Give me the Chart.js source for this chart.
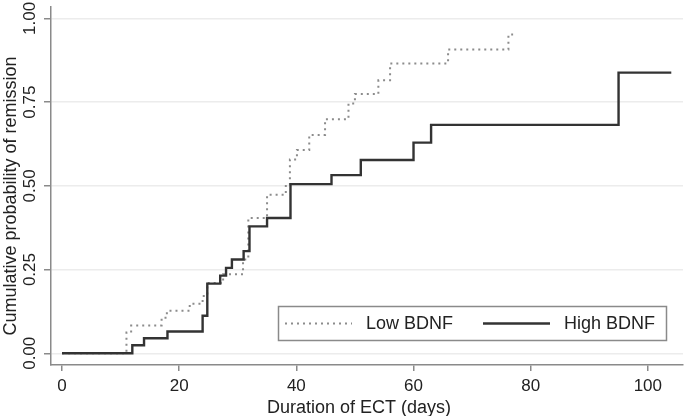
<!DOCTYPE html>
<html>
<head>
<meta charset="utf-8">
<script src="https://cdn.jsdelivr.net/npm/chart.js@4"></script>
<style>
  html, body { margin: 0; padding: 0; background: #fff; }
  #wrap { width: 685px; height: 416px; }
</style>
</head>
<body>
<div id="wrap"><canvas id="kmChart" width="685" height="416"></canvas></div>
<script>
// valeurs
var xTicks = [0, 20, 40, 60, 80, 100];
var yTicks = [0, 0.25, 0.5, 0.75, 1];
var yTickLabels = ['0.00', '0.25', '0.50', '0.75', '1.00'];

var lowDays = [0, 11, 11.8, 17, 17.9, 21.8, 24, 24.8, 27.5, 30.9, 31.8, 35, 38.2, 38.9, 40.1, 42.2, 44.9, 48.9, 50, 54, 56, 65.9, 76.2, 77];
var lowProb = [0, 0.062, 0.083, 0.106, 0.127, 0.148, 0.171, 0.21, 0.236, 0.28, 0.404, 0.473, 0.503, 0.579, 0.607, 0.652, 0.699, 0.746, 0.774, 0.815, 0.865, 0.907, 0.952, 0.952];

var highDays = [0, 12, 14, 18, 24, 24.8, 27, 28, 29, 31, 32, 35, 39, 46, 51, 60, 63, 95, 104];
var highProb = [0, 0.024, 0.045, 0.065, 0.112, 0.208, 0.232, 0.255, 0.28, 0.305, 0.379, 0.404, 0.505, 0.532, 0.577, 0.629, 0.682, 0.838, 0.838];

var FONT = '"Liberation Sans", Arial, sans-serif';
var AXIS_GREY = '#8a8a8a';

function toPoints(xs, ys) {
    return xs.map(function(x, i) { return { x: x, y: ys[i] }; });
}

// Plugin pour les textes tournés et la légende encadrée
var extras = {
    id: 'extras',
    afterDraw: function(chart) {
        var ctx = chart.ctx;
        var yScale = chart.scales.y;
        ctx.save();
        ctx.fillStyle = '#222';

        // étiquettes de l'axe y (verticales)
        ctx.font = '17px ' + FONT;
        ctx.textAlign = 'center';
        ctx.textBaseline = 'alphabetic';
        yTicks.forEach(function(v, i) {
            ctx.save();
            ctx.translate(35, yScale.getPixelForValue(v));
            ctx.rotate(-Math.PI / 2);
            ctx.fillText(yTickLabels[i], 0, 0);
            ctx.restore();
        });

        // titre de l'axe y
        ctx.font = '18px ' + FONT;
        ctx.save();
        ctx.translate(16, 196);
        ctx.rotate(-Math.PI / 2);
        ctx.fillText('Cumulative probability of remission', 0, 0);
        ctx.restore();

        // titre de l'axe x
        ctx.fillText('Duration of ECT (days)', 359, 413);

        // légende
        ctx.fillStyle = '#fff';
        ctx.fillRect(278.5, 306.5, 388, 34);
        ctx.strokeStyle = AXIS_GREY;
        ctx.lineWidth = 1.5;
        ctx.strokeRect(278.5, 306.5, 388, 34);

        var entries = [
            { ds: chart.data.datasets[0], x: 285 },
            { ds: chart.data.datasets[1], x: 483 }
        ];
        entries.forEach(function(e) {
            ctx.save();
            ctx.strokeStyle = e.ds.borderColor;
            ctx.lineWidth = e.ds.borderWidth;
            ctx.setLineDash(e.ds.borderDash || []);
            ctx.beginPath();
            ctx.moveTo(e.x, 323.5);
            ctx.lineTo(e.x + 67, 323.5);
            ctx.stroke();
            ctx.restore();
            ctx.fillStyle = '#222';
            ctx.font = '18px ' + FONT;
            ctx.textAlign = 'left';
            ctx.textBaseline = 'middle';
            ctx.fillText(e.ds.label, e.x + 81, 324);
        });
        ctx.restore();
    }
};

var ctxKm = document.getElementById('kmChart').getContext('2d');

var kmChart = new Chart(ctxKm, {
    type: 'line',
    data: {
        datasets: [{
            label: 'Low BDNF',
            data: toPoints(lowDays, lowProb),
            stepped: 'before',
            borderColor: '#8c8c8c',
            borderWidth: 2,
            borderDash: [2, 4],
            pointRadius: 0,
            fill: false,
            order: 1
        }, {
            label: 'High BDNF',
            data: toPoints(highDays, highProb),
            stepped: 'before',
            borderColor: '#333333',
            borderWidth: 2.4,
            borderJoinStyle: 'miter',
            pointRadius: 0,
            fill: false,
            order: 0
        }]
    },
    options: {
        responsive: false,
        animation: false,
        layout: { padding: { top: 7, right: 2, left: 0, bottom: 0 } },
        plugins: {
            legend: { display: false },
            tooltip: { enabled: false }
        },
        scales: {
            x: {
                type: 'linear',
                min: -1.88,
                max: 106,
                afterFit: function(scale) { scale.height = 51; },
                afterBuildTicks: function(scale) {
                    scale.ticks = xTicks.map(function(v) { return { value: v }; });
                },
                grid: {
                    drawOnChartArea: false,
                    tickLength: 6,
                    tickColor: AXIS_GREY,
                    lineWidth: 1.5
                },
                border: { color: AXIS_GREY, width: 1.5 },
                ticks: {
                    padding: 5,
                    maxRotation: 0,
                    color: '#222',
                    font: { family: FONT, size: 17 }
                }
            },
            y: {
                type: 'linear',
                min: -0.035,
                max: 1.034,
                afterFit: function(scale) { scale.width = 51; },
                afterBuildTicks: function(scale) {
                    scale.ticks = yTicks.map(function(v) { return { value: v }; });
                },
                grid: {
                    color: '#ececec',
                    lineWidth: 1.5,
                    tickLength: 7,
                    tickColor: AXIS_GREY
                },
                border: { color: AXIS_GREY, width: 1.5 },
                ticks: { display: false }
            }
        }
    },
    plugins: [extras]
});
</script>
</body>
</html>
